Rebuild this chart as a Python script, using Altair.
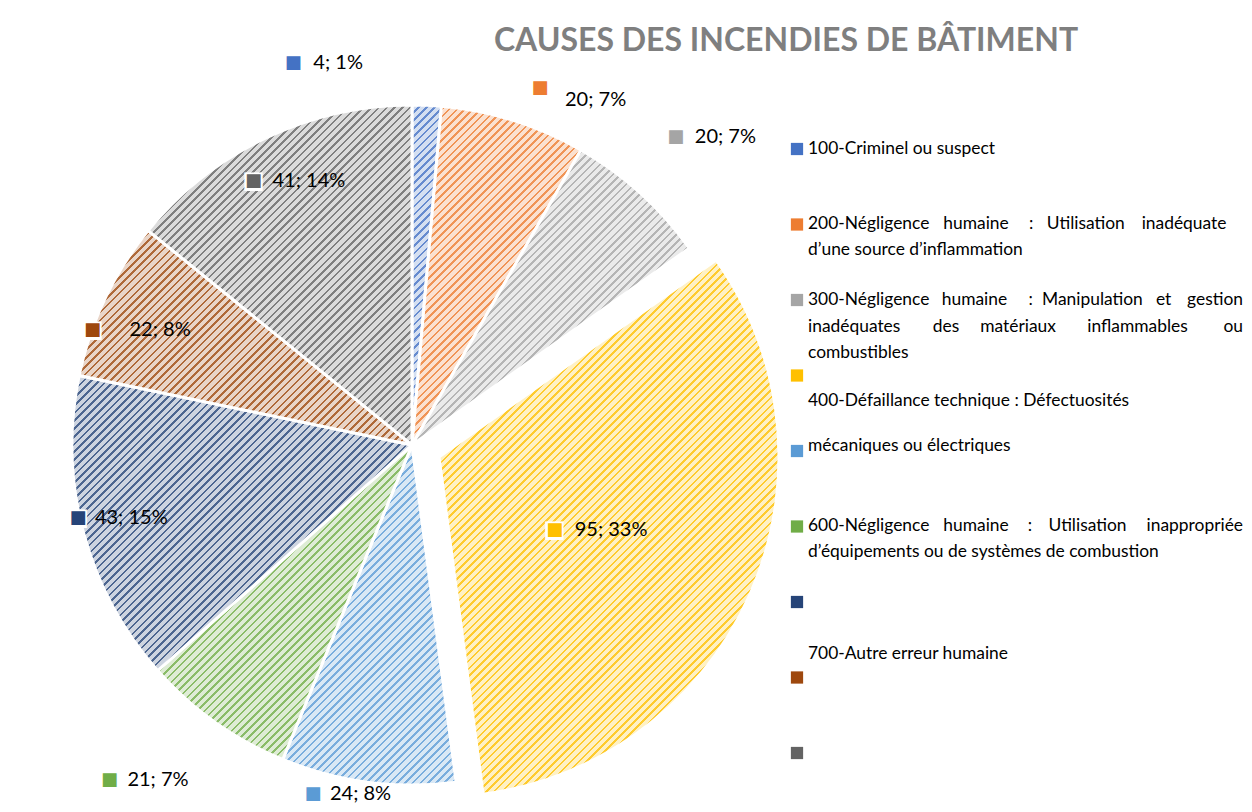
import math
import altair as alt
import pandas as pd

# ---------------- data ----------------
keys = ["100", "200", "300", "400", "500", "600", "650", "700", "800"]
values = [4, 20, 20, 95, 24, 21, 43, 22, 41]
marker_colors = ["#4472C4", "#ED7D31", "#A5A5A5", "#FFC000", "#5B9BD5",
                 "#70AD47", "#264478", "#9E480E", "#636363"]
legend_lines = [
    "100-Criminel ou suspect",
    "200-Négligence humaine : Utilisation inadéquate",
    "d’une source d’inflammation",
    "300-Négligence humaine : Manipulation et gestion",
    "inadéquates des matériaux inflammables ou",
    "combustibles",
    "400-Défaillance technique : Défectuosités",
    "mécaniques ou électriques",
    "600-Négligence humaine : Utilisation inappropriée",
    "d’équipements ou de systèmes de combustion",
    "700-Autre erreur humaine",
]
title_text = "CAUSES DES INCENDIES DE BÂTIMENT"

# ---------------- layout / style ----------------
W, H = 1236, 800
CX, CY, R = 404, 437, 340
EXPLODED = 3
EX_DX, EX_DY = 27, 12
# label placement: (radius, dx, dy, marker dx, marker dy)
label_layout = [
    (377, -115, -5, -20, 0),
    (375, 41, 13, -25, -12),
    (418, 2, 2, -19, 0),
    (183, -5, 12, -20, 0),
    (363, -35, -11, -17, 0),
    (438, -31, -22, -18, 0),
    (325, -3, -11, -17, 0),
    (304, -8, 16, -37, 0),
    (299, -11, 6, -19, 0),
]
legend_line_rows = [0, 0.99, 1.34, 2.0, 2.36, 2.70, 3.34, 3.93, 4.99, 5.34, 6.69]
# justified lines: word start as a fraction of the legend text width (last word ends at 1)
justify = {
    1: [0, 0.311, 0.508, 0.549, 0.767],
    3: [0, 0.3075, 0.507, 0.538, 0.800, 1.0],
    4: [0, 0.287, 0.396, 0.642, 1.0],
    8: [0, 0.311, 0.505, 0.553, 1.0],
}
LEG_SCALE = alt.Scale(domain=[0, 8], range=[141, 745])
LEG_X = alt.Scale(domain=[0, 1], range=[800, 1235])
LEG_FONT = 17.4
HATCH_PERIOD = 5.5
HATCH_DARK = 0.33
DARK_MIX = 0.18
LIGHT_MIX = 0.77


def mix_white(hex_color, t):
    h = hex_color.lstrip("#")
    rgb = [int(h[i:i + 2], 16) for i in (0, 2, 4)]
    return "#" + "".join(f"{round(c + (255 - c) * t):02x}" for c in rgb)


def sector_bbox(a0, a1):
    xs, ys = [0.0], [0.0]
    n = 90
    for j in range(n + 1):
        a = a0 + (a1 - a0) * j / n
        xs.append(R * math.sin(a))
        ys.append(-R * math.cos(a))
    return max(xs) - min(xs), max(ys) - min(ys)


def hatch(color, bw, bh):
    dark = mix_white(color, DARK_MIX)
    light = mix_white(color, LIGHT_MIX)
    n = max(1, round((bw + bh) / (math.sqrt(2) * HATCH_PERIOD)))
    stops = []
    for i in range(n):
        a, b, c = i / n, (i + HATCH_DARK) / n, (i + 1) / n
        stops += [alt.GradientStop(offset=a, color=dark), alt.GradientStop(offset=b, color=dark),
                  alt.GradientStop(offset=b, color=light), alt.GradientStop(offset=c, color=light)]
    s = bw * bw + bh * bh
    return alt.LinearGradient(gradient="linear", stops=stops, x1=0, y1=0,
                              x2=bw * (bw + bh) / s, y2=bh * (bw + bh) / s)


total = sum(values)
df = pd.DataFrame({
    "k": list(range(len(values))),
    "key": keys,
    "value": values,
    "label": [f"{v}; {round(100 * v / total)}%" for v in values],
})

base = alt.Chart(df).encode(
    theta=alt.Theta("value:Q", stack=True),
    order=alt.Order("k:Q", sort="ascending"),
)
marker_enc = alt.Color("key:N", scale=alt.Scale(domain=keys, range=marker_colors), legend=None)

layers = []
cum = 0
for i, v in enumerate(values):
    a0 = 2 * math.pi * cum / total
    a1 = 2 * math.pi * (cum + v) / total
    cum += v
    bw, bh = sector_bbox(a0, a1)
    cx, cy = (CX + EX_DX, CY + EX_DY) if i == EXPLODED else (CX, CY)
    layers.append(base.mark_arc(radius=R, stroke="white", strokeWidth=3,
                                color=hatch(marker_colors[i], bw, bh)).encode(
        x=alt.value(cx), y=alt.value(cy),
        opacity=alt.when(alt.datum.k == i).then(alt.value(1)).otherwise(alt.value(0)),
    ))

for i, (r, dx, dy, mdx, mdy) in enumerate(label_layout):
    sel = alt.datum.k == i
    layers.append(base.mark_text(radius=r, dx=dx + mdx, dy=dy + mdy, align="center",
                                 baseline="middle", font="DejaVu Sans", fontSize=24,
                                 color="white").encode(
        x=alt.value(CX), y=alt.value(CY),
        text=alt.when(sel).then(alt.value("■")).otherwise(alt.value(""))))
    layers.append(base.mark_text(radius=r, dx=dx + mdx, dy=dy + mdy, align="center",
                                 baseline="middle", font="DejaVu Sans", fontSize=18).encode(
        x=alt.value(CX), y=alt.value(CY), color=marker_enc,
        text=alt.when(sel).then(alt.value("■")).otherwise(alt.value(""))))
    layers.append(base.mark_text(radius=r, dx=dx, dy=dy, align="left", baseline="middle",
                                 font="Lato", fontSize=20, color="black").encode(
        x=alt.value(CX), y=alt.value(CY),
        text=alt.when(sel).then("label:N").otherwise(alt.value(""))))

# legend markers
leg_df = pd.DataFrame({"row": list(range(len(keys))), "key": keys})
leg_markers = alt.Chart(leg_df).mark_square(size=150, opacity=1).encode(
    x=alt.value(789), y=alt.Y("row:Q", scale=LEG_SCALE, axis=None),
    color=marker_enc,
)
words = []
for j, (line, row) in enumerate(zip(legend_lines, legend_line_rows)):
    if j in justify:
        for w, f in zip(line.split(" "), justify[j]):
            words.append({"pos": row, "f": f, "txt": w, "end": f >= 1})
    else:
        words.append({"pos": row, "f": 0, "txt": line, "end": False})
lines_df = pd.DataFrame(words)
leg_base = alt.Chart(lines_df).encode(
    x=alt.X("f:Q", scale=LEG_X, axis=None),
    y=alt.Y("pos:Q", scale=LEG_SCALE, axis=None), text="txt:N",
)
leg_text_l = leg_base.transform_filter("!datum.end").mark_text(
    align="left", baseline="middle", font="Lato", fontSize=LEG_FONT, color="black")
leg_text_r = leg_base.transform_filter("datum.end").mark_text(
    align="right", baseline="middle", font="Lato", fontSize=LEG_FONT, color="black")

title = alt.Chart(pd.DataFrame({"t": [title_text]})).mark_text(
    align="center", baseline="alphabetic", font="Lato", fontWeight="bold",
    fontSize=32, color="#7F7F7F").encode(
    x=alt.value(778), y=alt.value(43), text="t:N")

chart = alt.layer(*layers, leg_markers, leg_text_l, leg_text_r, title).properties(
    width=W, height=H, autosize="none", padding=0
).configure_view(stroke=None)

chart.save("out.html", embed_options={"renderer": "svg", "actions": False})
